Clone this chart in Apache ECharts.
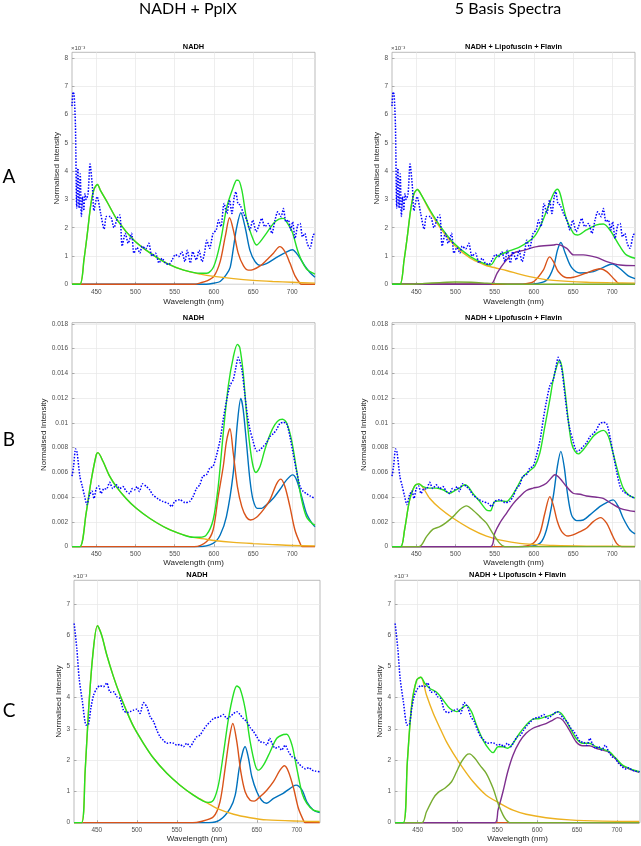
<!DOCTYPE html>
<html><head><meta charset="utf-8">
<script src="https://cdn.jsdelivr.net/npm/echarts@6/dist/echarts.min.js"></script>
<style>html,body{margin:0;padding:0;background:#fff}#c{width:641px;height:846px}</style>
</head><body><div id="c"></div><script>
// ---------- tick labels ----------
const xTicks = [450, 500, 550, 600, 650, 700];
const yTicksA = [0, 1, 2, 3, 4, 5, 6, 7, 8];           // x10^-3
const yTicksB = [0, 0.002, 0.004, 0.006, 0.008, 0.01, 0.012, 0.014, 0.016, 0.018];
const yTicksC = [0, 1, 2, 3, 4, 5, 6, 7];              // x10^-3

// ---------- measured spectra (wavelength nm, intensity) ----------
const measA = [[419,6.3],[420.4,6.8],[421.7,6.7],[423.4,5.6],[425,2.7],[426.5,4.1],[428,2.7],[429.5,3.9],[431,2.4],[432.5,3.1],[434,2.6],[435.5,3.2],[437,3.0],[439.5,3.2],[442,4.25],[445,3.45],[447,2.6],[451,3.1],[455.6,2.5],[460,1.95],[463,2.4],[468,2.4],[472.5,2.0],[477,2.35],[480,2.45],[483,1.35],[487,1.8],[490.7,1.45],[495,1.8],[498,1.1],[502,1.3],[505.6,1.1],[508.5,1.35],[513,1.25],[517,1.45],[521,1.0],[525.5,1.1],[530,0.75],[534,0.92],[538,0.75],[542.5,0.7],[546.7,0.86],[551,1.05],[555,0.98],[559,1.15],[563,0.8],[566,1.2],[570,0.75],[573,1.15],[577.6,0.86],[581,1.2],[585,0.8],[588,1.1],[591,1.56],[594.5,1.27],[599,1.8],[603,1.92],[606,2.27],[609,2.04],[613,2.86],[616.6,2.5],[620,2.98],[623,2.5],[626,3.1],[628,3.27],[630.6,2.86],[633.5,2.8],[637.8,2.5],[642,2.27],[646,1.92],[649.6,2.27],[654,1.86],[657,2.04],[661,2.33],[665,2.04],[669.6,2.15],[674,1.8],[678,2.27],[681.5,2.56],[685.7,2.39],[688.6,2.68],[692,2.21],[695,2.27],[698,1.92],[700.5,2.21],[703.5,1.62],[707,2.09],[710,2.15],[713,1.68],[716,1.8],[719,1.45],[722.5,1.27],[726.7,1.74],[729,1.8]];
const measB = [[419,0.0057],[421,0.0065],[423.6,0.0079],[425.5,0.0076],[429,0.0057],[432,0.0049],[435,0.0041],[438,0.0034],[441.5,0.0042],[444.5,0.0045],[447,0.0039],[450,0.0047],[453,0.0049],[456,0.0043],[460,0.0047],[463,0.00465],[467,0.0052],[471,0.0047],[475.5,0.005],[479.8,0.0047],[484,0.00486],[488,0.0045],[492.6,0.0043],[496,0.0047],[499,0.0046],[502,0.00486],[505,0.00446],[509,0.00508],[514,0.00486],[518,0.0046],[522,0.0042],[529,0.00386],[535,0.00365],[541.6,0.0035],[546,0.00324],[550,0.00365],[556.5,0.0038],[563,0.00357],[569,0.00365],[573.4,0.00405],[577.8,0.0047],[582,0.005],[586,0.0057],[590.5,0.0058],[594.8,0.00635],[599,0.0065],[603,0.0073],[608,0.00865],[612,0.0103],[616,0.01175],[620.4,0.013],[624.7,0.0135],[628,0.01446],[631,0.0153],[633,0.015],[636,0.0142],[639.5,0.0123],[643,0.0105],[646,0.00946],[649.5,0.00865],[652.5,0.00797],[655.5,0.0077],[659,0.00784],[663,0.0081],[667,0.00838],[671.5,0.0089],[675.8,0.00914],[680,0.00946],[684,0.00995],[688.5,0.01005],[692.8,0.00995],[697,0.0089],[701,0.00757],[705.5,0.00608],[710,0.00486],[714,0.00446],[718,0.0043],[722.6,0.0041],[729,0.0039]];
const measC = [[421.7,6.37],[425,5.57],[428,4.6],[432,3.87],[436.7,3.12],[439.6,3.14],[442.5,3.65],[446,4.08],[450,4.29],[454,4.38],[458.3,4.35],[462.5,4.47],[466.7,4.17],[470.8,4.19],[475,4.03],[479,3.97],[483.3,3.6],[487.5,3.52],[491.7,3.55],[496,3.6],[500,3.63],[504,3.49],[508.3,3.84],[512.5,3.71],[516.7,3.39],[521,3.23],[525,2.96],[529,2.75],[533,2.64],[537.5,2.54],[541.7,2.56],[546,2.54],[550,2.48],[554,2.5],[558.3,2.43],[562.5,2.54],[566.7,2.43],[570.8,2.59],[575,2.75],[579,2.8],[583,2.96],[587.5,3.12],[591.7,3.23],[595.8,3.33],[600,3.36],[604,3.39],[608.3,3.46],[612.5,3.33],[616.7,3.39],[621,3.49],[625,3.55],[629,3.46],[633,3.33],[637.5,3.23],[641.7,3.04],[646,2.91],[650,2.75],[654,2.59],[658.3,2.57],[662.5,2.48],[666,2.7],[669,2.54],[673,2.38],[677,2.43],[681,2.32],[685.4,2.48],[689.6,2.27],[694,2.11],[698,2.06],[702,1.9],[706.6,1.79],[710.8,1.72],[715,1.76],[719,1.68],[723,1.65],[728.6,1.63]];

// ---------- Row A, NADH + PpIX ----------
const aL_fit  = [[419,0],[429,0],[434.4,0.9],[438.6,1.8],[442.9,2.8],[447,3.35],[451.4,3.53],[455.6,3.3],[464,2.9],[476.8,2.27],[498,1.56],[519,1.1],[540,0.74],[561.5,0.5],[582.7,0.39],[591,0.39],[599.7,0.62],[608,1.45],[616.6,2.74],[625,3.45],[629,3.68],[631,3.68],[635.7,3.33],[642,2.27],[650.5,1.56],[654.7,1.39],[659,1.5],[667,1.8],[676,2.15],[683,2.3],[688.6,2.33],[694,2.15],[700,1.85],[708,1.1],[718,0.55],[729,0.36]];
const aL_nadh = [[419,0],[429,0],[434.4,0.9],[438.6,1.8],[442.9,2.8],[447,3.35],[451.4,3.53],[455.6,3.3],[464,2.9],[476.8,2.27],[498,1.56],[519,1.1],[540,0.74],[561.5,0.5],[582.7,0.36],[600,0.28],[625,0.2],[650,0.14],[675,0.1],[700,0.07],[729,0.04]];
const aL_red  = [[419,0],[575,0],[582.7,0.05],[591,0.12],[600,0.28],[608,0.8],[614.6,1.7],[620,2.35],[625,1.9],[631,1.1],[637.8,0.65],[644,0.5],[650,0.52],[659,0.65],[667,0.85],[676,1.1],[684,1.33],[690.8,1.15],[697,0.75],[703.5,0.3],[710,0.03],[712,0],[729,0]];
const aL_blue = [[419,0],[590,0],[600,0.04],[608,0.1],[616,0.35],[620.8,0.6],[625,1.3],[629,2.0],[634.4,2.53],[640,2.0],[646,1.2],[652.6,0.8],[659,0.67],[667,0.73],[680,0.95],[693,1.15],[700,1.22],[708,1.0],[716,0.65],[722.5,0.42],[729,0.25]];

// ---------- Row A, 5 basis spectra ----------
const aR_fit  = [[419,0],[429,0],[434.4,0.85],[438.6,1.7],[442.9,2.65],[447,3.2],[451.4,3.35],[455.6,3.2],[468,2.6],[481,2.04],[498,1.45],[519,0.98],[536,0.74],[544.6,0.68],[553,0.98],[566,1.15],[582.7,1.33],[599.7,1.66],[608,2.04],[616.6,2.62],[625,3.2],[630,3.36],[633.5,3.2],[642,2.27],[650.5,1.8],[655.6,1.74],[667,1.92],[680,2.1],[688.6,2.13],[697,1.92],[710,1.33],[718,1.04],[729,0.92]];
const aR_nadh = [[419,0],[429,0],[434.4,0.85],[438.6,1.7],[442.9,2.65],[447,3.2],[451.4,3.35],[455.6,3.2],[468,2.55],[481,1.98],[498,1.4],[519,0.92],[536,0.7],[545,0.62],[566,0.48],[582.7,0.35],[604,0.22],[625,0.14],[667,0.07],[700,0.05],[729,0.04]];
const aR_flav = [[419,0],[445,0],[460,0.03],[480,0.06],[500,0.08],[520,0.07],[540,0.04],[560,0.01],[570,0],[729,0]];
const aR_lipo = [[419,0],[544.6,0],[553,0.39],[561.5,0.74],[574,1.1],[587,1.2],[604,1.33],[625,1.39],[629,1.41],[642,1.27],[650.5,1.04],[663,1.04],[680,0.95],[693,0.8],[710,0.68],[729,0.66]];
const aR_red  = [[419,0],[580,0],[590,0.02],[600,0.1],[612,0.5],[620,0.97],[625,0.8],[631,0.45],[642,0.23],[650.5,0.25],[667,0.4],[684.5,0.55],[693,0.45],[703.5,0.15],[710,0],[729,0]];
const aR_blue = [[419,0],[590,0],[605,0.03],[616.6,0.15],[625,0.6],[630,1.2],[634.4,1.48],[640,1.1],[648,0.6],[659,0.4],[676,0.45],[688.6,0.6],[700,0.72],[710,0.55],[720.4,0.3],[729,0.2]];

// ---------- Row B, NADH + PpIX ----------
const bL_fit  = [[419,0],[429,0],[437,0.0027],[443.6,0.0054],[450,0.00743],[452,0.0076],[458.5,0.0069],[467,0.0057],[475.5,0.00486],[488,0.0039],[501,0.0031],[518,0.0023],[539.5,0.0015],[561,0.00095],[573.4,0.00076],[582,0.00076],[590.5,0.00095],[599,0.00216],[605.5,0.00486],[612,0.0092],[618.4,0.013],[624.7,0.0153],[630,0.01635],[633,0.0161],[637.4,0.01405],[641.6,0.0108],[646,0.0081],[650,0.0065],[653.6,0.006],[659,0.0065],[665,0.00784],[671.5,0.00905],[677.8,0.00986],[684,0.01027],[687.6,0.0103],[692.8,0.01],[699,0.00865],[705.5,0.0062],[712,0.00378],[718,0.00243],[725,0.0019],[729,0.00175]];
const bL_nadh = [[419,0],[429,0],[437,0.0027],[443.6,0.0054],[450,0.00743],[452,0.0076],[458.5,0.0069],[467,0.0057],[475.5,0.00486],[488,0.0039],[501,0.0031],[518,0.0023],[539.5,0.0015],[561,0.00095],[573.4,0.00075],[590,0.0006],[600,0.0005],[625,0.00035],[650,0.00025],[675,0.00017],[700,0.0001],[729,0.00007]];
const bL_red  = [[419,0],[575,0],[590.5,0.0004],[599,0.00135],[605.5,0.00405],[612,0.0065],[616,0.0085],[620.4,0.00954],[624.7,0.00757],[630,0.00486],[635.6,0.00324],[641.6,0.00238],[646.8,0.00216],[654.5,0.00238],[663,0.00297],[671.5,0.00378],[680,0.00508],[685.5,0.00546],[690.6,0.00486],[697,0.00324],[703.4,0.00135],[710,0.00027],[713,0],[729,0]];
const bL_blue = [[419,0],[580,0],[599,0.00027],[608,0.00095],[616,0.00243],[624.7,0.00595],[630,0.01],[634.4,0.01197],[637.4,0.01108],[641.6,0.00838],[646,0.0054],[650,0.00378],[655.5,0.0031],[661,0.0031],[667,0.00338],[675.8,0.00392],[684,0.0046],[692.8,0.0054],[700.5,0.0058],[705.5,0.0054],[712,0.00405],[718,0.0027],[725,0.0019],[729,0.00162]];

// ---------- Row B, 5 basis spectra ----------
const bR_fit  = [[419,0],[430,0],[435,0.00135],[441.5,0.00378],[448,0.00492],[453.4,0.00508],[458.5,0.00486],[467,0.00473],[475.5,0.00473],[484,0.0046],[492.6,0.00432],[499,0.00454],[505,0.00473],[511.7,0.005],[516,0.00486],[522,0.00432],[531,0.00365],[539.5,0.00297],[544.5,0.0029],[550,0.00365],[558.6,0.0037],[565,0.00365],[571.4,0.00405],[578,0.00473],[586.4,0.00568],[595,0.00616],[601,0.00649],[607.6,0.00757],[614,0.00973],[620.4,0.0119],[624.7,0.0135],[629,0.01454],[632.5,0.01505],[635.5,0.0146],[639.5,0.0127],[643.8,0.01027],[648,0.00838],[652.5,0.0077],[656.7,0.0075],[663,0.00784],[669.4,0.00838],[675.8,0.00892],[682,0.00924],[688.5,0.0094],[695,0.00892],[701,0.00757],[707.7,0.00595],[714,0.00473],[720.6,0.00419],[729,0.00392]];
const bR_nadh = [[419,0],[430,0],[435,0.00135],[441.5,0.00378],[448,0.00492],[453.4,0.00508],[467,0.00392],[480,0.0031],[497,0.0023],[518,0.00149],[539.5,0.00086],[561,0.00049],[582,0.00027],[603,0.00017],[624.7,0.0001],[667,0.00005],[729,0.00003]];
const bR_flav = [[419,0],[453.4,0],[463,0.00081],[471,0.0014],[480,0.00162],[488,0.00195],[497,0.00243],[505,0.00297],[514,0.0033],[522,0.00297],[531,0.00243],[539.5,0.0019],[548,0.00103],[556.5,0.00027],[563,0],[729,0]];
const bR_lipo = [[419,0],[544.5,0],[550,0.00108],[556.5,0.0019],[565,0.0027],[573.4,0.00346],[582,0.00405],[590.5,0.00454],[599,0.00473],[607.6,0.00486],[616,0.00513],[624.7,0.00573],[627,0.00581],[633,0.00554],[641.6,0.00486],[650,0.00432],[659,0.00424],[667,0.0041],[680,0.004],[688.5,0.0039],[697,0.00357],[710,0.0031],[722.6,0.0029],[729,0.00284]];
const bR_red  = [[419,0],[580,0],[599,0.00027],[607.6,0.00108],[614,0.0027],[620.4,0.00405],[624.7,0.00338],[630,0.00203],[635.5,0.00122],[643.8,0.00086],[650,0.00095],[659,0.00122],[667,0.00149],[675.8,0.00203],[685,0.00235],[692.8,0.0019],[699,0.00108],[705.5,0.00027],[712,0],[729,0]];
const bR_blue = [[419,0],[585,0],[607.6,0.00027],[616,0.00135],[624.7,0.00405],[630,0.00649],[634.4,0.0077],[638.6,0.00649],[642.8,0.00432],[648,0.00257],[654.5,0.00211],[663,0.00216],[671.5,0.00257],[684,0.00324],[692.8,0.00357],[701,0.00378],[707.7,0.00324],[714,0.0023],[722.6,0.00135],[729,0.00103]];

// ---------- Row C, NADH + PpIX ----------
const cL_fit  = [[421.5,0],[431,0],[435.4,1.63],[439.6,3.55],[445,5.36],[450.8,6.3],[456,6.0],[462.5,5.36],[470.8,4.67],[479,4.08],[487.5,3.55],[496,3.07],[508.3,2.54],[521,2.06],[537.5,1.58],[554,1.2],[570.8,0.88],[583,0.69],[589.6,0.65],[595.8,0.72],[602,1.2],[608,2.16],[614.6,3.33],[621,4.13],[625,4.37],[629,4.29],[635.4,3.65],[641.7,2.59],[648,1.84],[652,1.68],[658.3,1.84],[666.7,2.27],[675,2.7],[683.3,2.82],[687.5,2.83],[694,2.48],[700,1.74],[706.6,0.94],[712.5,0.62],[720.8,0.4],[728.6,0.35]];
const cL_nadh = [[421.5,0],[431,0],[435.4,1.63],[439.6,3.55],[445,5.36],[450.8,6.3],[456,6.0],[462.5,5.36],[470.8,4.67],[479,4.08],[487.5,3.55],[496,3.07],[508.3,2.54],[521,2.06],[537.5,1.58],[554,1.2],[570.8,0.88],[579,0.76],[590,0.6],[600,0.46],[621,0.27],[641.7,0.16],[662.5,0.09],[704,0.05],[728.6,0.04]];
const cL_red  = [[421.5,0],[570,0],[579,0.03],[595.8,0.19],[604,0.67],[610.4,1.74],[616,2.75],[620,3.17],[625,2.59],[630,1.63],[635.4,0.99],[641.7,0.72],[646.7,0.69],[654,0.83],[662.5,1.04],[670.8,1.31],[679,1.68],[684.6,1.82],[689.6,1.63],[696,1.1],[702,0.46],[708,0.09],[710.4,0],[728.6,0]];
const cL_blue = [[421.5,0],[590,0],[604,0.09],[616.7,0.46],[623,0.88],[628,1.74],[632.5,2.27],[635.4,2.43],[639.6,2.06],[643.8,1.47],[650,0.99],[656,0.72],[662,0.62],[671,0.78],[683,0.94],[691.7,1.1],[699,1.2],[706.6,1.04],[712.5,0.67],[720.8,0.4],[728.6,0.32]];

// ---------- Row C, 5 basis spectra ----------
const cR_fit  = [[421.5,0],[432,0],[437,1.95],[442.5,3.76],[448.75,4.56],[454,4.65],[459,4.45],[465.4,4.29],[473.75,4.17],[482,3.92],[490.4,3.65],[498.75,3.55],[505,3.65],[511,3.76],[517.5,3.55],[523.75,3.12],[532,2.64],[540.4,2.32],[544.6,2.24],[550.8,2.43],[557,2.43],[563,2.38],[569.6,2.54],[577.9,2.86],[586,3.12],[594.6,3.31],[602.9,3.33],[611,3.39],[619.6,3.46],[625.8,3.55],[632,3.44],[640.4,3.07],[648.75,2.7],[657,2.54],[665.4,2.54],[673.75,2.43],[682,2.35],[690.4,2.27],[698.75,2.06],[707,1.84],[715.4,1.74],[728,1.63]];
const cR_nadh = [[421.5,0],[432,0],[437,1.95],[442.5,3.76],[448.75,4.56],[454,4.65],[461,4.08],[469.6,3.49],[478,3.02],[486,2.59],[494.6,2.22],[507,1.74],[519.6,1.31],[536,0.88],[553,0.62],[569.6,0.4],[586,0.27],[611,0.16],[640.4,0.09],[682,0.05],[728,0.04]];
const cR_flav = [[421.5,0],[455,0],[461,0.35],[469.6,0.78],[475.8,0.97],[484,1.1],[492.5,1.31],[498.75,1.63],[505,1.95],[511,2.16],[515,2.2],[521.7,2.06],[528,1.84],[536,1.58],[544.6,1.1],[550.8,0.62],[557,0.25],[561,0.09],[565.4,0],[728,0]];
const cR_lipo = [[421.5,0],[546.7,0],[550.8,0.4],[557,0.99],[563,1.63],[569.6,2.16],[577.9,2.59],[586,2.86],[594.6,3.02],[602.9,3.1],[611,3.17],[619.6,3.28],[625.8,3.36],[632,3.28],[640.4,2.96],[648.75,2.59],[657,2.46],[665.4,2.46],[673.75,2.38],[682,2.32],[690.4,2.25],[698.75,2.03],[707,1.82],[715.4,1.72],[728,1.61]];
const cR_red  = [[421.5,0],[728,0]];
const cR_blue = [[421.5,0],[728,0]];

// ---------- styling ----------
const COL = {blue:'#0072BD', red:'#D95319', nadh:'#EDB120', lipo:'#7E2F8E', flav:'#77AC30', fit:'#25e025', meas:'#0000ff'};
const FONT = 'Liberation Sans, Arial, Helvetica, sans-serif';

const panels = [
  {grid:{left:72, top:52.3, width:243, height:232}, xr:[419,729], yr:[0,8.2], yt:yTicksA, yGap:9, xGap:13, title:'NADH', exp:true,
   comps:[['blue',aL_blue],['red',aL_red],['nadh',aL_nadh]], fit:aL_fit, meas:measA},
  {grid:{left:392, top:52.3, width:243, height:232}, xr:[419,729], yr:[0,8.2], yt:yTicksA, yGap:9, xGap:13, title:'NADH + Lipofuscin + Flavin', exp:true,
   comps:[['blue',aR_blue],['red',aR_red],['nadh',aR_nadh],['lipo',aR_lipo],['flav',aR_flav]], fit:aR_fit, meas:measA},
  {grid:{left:72, top:322.7, width:243, height:224}, xr:[419,729], yr:[0,0.0181], yt:yTicksB, yGap:17, xGap:10, title:'NADH', exp:false,
   comps:[['blue',bL_blue],['red',bL_red],['nadh',bL_nadh]], fit:bL_fit, meas:measB},
  {grid:{left:392, top:322.7, width:243, height:224}, xr:[419,729], yr:[0,0.0181], yt:yTicksB, yGap:17, xGap:10, title:'NADH + Lipofuscin + Flavin', exp:false,
   comps:[['blue',bR_blue],['red',bR_red],['nadh',bR_nadh],['lipo',bR_lipo],['flav',bR_flav]], fit:bR_fit, meas:measB},
  {grid:{left:74, top:580.3, width:246, height:242.4}, xr:[421.5,729], yr:[0,7.75], yt:yTicksC, yGap:6, xGap:12, title:'NADH', exp:true,
   comps:[['blue',cL_blue],['red',cL_red],['nadh',cL_nadh]], fit:cL_fit, meas:measC},
  {grid:{left:395, top:580.3, width:245, height:242.4}, xr:[421.5,729], yr:[0,7.75], yt:yTicksC, yGap:7, xGap:12, title:'NADH + Lipofuscin + Flavin', exp:true,
   comps:[['blue',cR_blue],['red',cR_red],['nadh',cR_nadh],['lipo',cR_lipo],['flav',cR_flav]], fit:cR_fit, meas:measC}
];

const grids = [], xAxes = [], yAxes = [], series = [], graphics = [];
panels.forEach((p, i) => {
  grids.push(Object.assign({show:true, borderColor:'#a9a9a9', borderWidth:0.8, backgroundColor:'#fff', containLabel:false}, p.grid));
  xAxes.push({type:'value', gridIndex:i, min:p.xr[0], max:p.xr[1],
    name:'Wavelength (nm)', nameLocation:'middle', nameGap:p.xGap,
    nameTextStyle:{fontFamily:FONT, fontSize:8, color:'#262626'},
    axisLine:{show:false},
    axisTick:{show:true, inside:true, length:2.5, customValues:xTicks, lineStyle:{color:'#8c8c8c', width:0.7}},
    axisLabel:{customValues:xTicks, fontFamily:FONT, fontSize:6.5, color:'#4d4d4d', margin:4},
    splitLine:{show:true, lineStyle:{color:'#e6e6e6', width:0.7}}});
  yAxes.push({type:'value', gridIndex:i, min:p.yr[0], max:p.yr[1],
    name:'Normalised Intensity', nameLocation:'middle', nameGap:p.yGap,
    nameTextStyle:{fontFamily:FONT, fontSize:8, color:'#262626'},
    axisLine:{show:false},
    axisTick:{show:true, inside:true, length:2.5, customValues:p.yt, lineStyle:{color:'#8c8c8c', width:0.7}},
    axisLabel:{customValues:p.yt, fontFamily:FONT, fontSize:6.5, color:'#4d4d4d', margin:4},
    splitLine:{show:true, lineStyle:{color:'#e6e6e6', width:0.7}}});
  p.comps.forEach(([k, d]) => series.push({type:'line', xAxisIndex:i, yAxisIndex:i, data:d, showSymbol:false, smooth:0.3,
    lineStyle:{color:COL[k], width:1.4}, silent:true}));
  series.push({type:'line', xAxisIndex:i, yAxisIndex:i, data:p.fit, showSymbol:false, smooth:0.3, lineStyle:{color:COL.fit, width:1.4}, silent:true});
  series.push({type:'line', xAxisIndex:i, yAxisIndex:i, data:p.meas, showSymbol:false, smooth:0.25, lineStyle:{color:COL.meas, width:1.5, type:'dotted'}, silent:true});
  const g = p.grid;
  graphics.push({type:'text', x:g.left + g.width/2, y:g.top - 5, style:{text:p.title, font:'bold 7.4px ' + FONT, fill:'#000', textAlign:'center', textVerticalAlign:'middle'}});
  if (p.exp) graphics.push({type:'text', x:g.left - 1, y:g.top - 3.5, style:{text:'×10⁻³', font:'6px ' + FONT, fill:'#4d4d4d', textAlign:'left', textVerticalAlign:'middle'}});
});
graphics.push({type:'text', x:188, y:9, style:{text:'NADH + PpIX', font:'16px Lato, sans-serif', fill:'#000', textAlign:'center', textVerticalAlign:'middle'}});
graphics.push({type:'text', x:508, y:9, style:{text:'5 Basis Spectra', font:'16px Lato, sans-serif', fill:'#000', textAlign:'center', textVerticalAlign:'middle'}});
[['A',177],['B',440],['C',711]].forEach(([t, y]) => graphics.push({type:'text', x:9, y:y, style:{text:t, font:'19px Lato, sans-serif', fill:'#000', textAlign:'center', textVerticalAlign:'middle'}}));

const chart = echarts.init(document.getElementById('c'), null, {renderer:'canvas'});
chart.setOption({animation:false, backgroundColor:'#fff', grid:grids, xAxis:xAxes, yAxis:yAxes, series:series, graphic:graphics});
</script></body></html>
